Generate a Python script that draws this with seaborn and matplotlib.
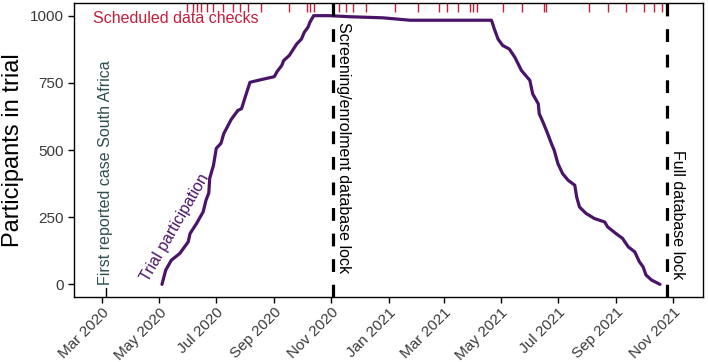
import pandas as pd
import seaborn as sns
import matplotlib.pyplot as plt
import matplotlib.dates as mdates

# participants enrolled in the trial over time
trial_dates = [
    "2020-05-04", "2020-05-08", "2020-05-14", "2020-05-23", "2020-06-01", "2020-06-03",
    "2020-06-10", "2020-06-17", "2020-06-20", "2020-06-23", "2020-06-24", "2020-06-28",
    "2020-07-01", "2020-07-06", "2020-07-09", "2020-07-17", "2020-07-24", "2020-07-28",
    "2020-08-02", "2020-08-06", "2020-08-18", "2020-09-01", "2020-09-04", "2020-09-09",
    "2020-09-11", "2020-09-17", "2020-09-25", "2020-09-30", "2020-10-03", "2020-10-07",
    "2020-10-09", "2020-10-13", "2020-10-30", "2020-11-21", "2020-12-26", "2021-01-24",
    "2021-04-21", "2021-04-24", "2021-04-28", "2021-05-03", "2021-05-10", "2021-05-16",
    "2021-05-23", "2021-06-01", "2021-06-04", "2021-06-10", "2021-06-11", "2021-06-15",
    "2021-06-20", "2021-06-24", "2021-06-27", "2021-07-01", "2021-07-06", "2021-07-12",
    "2021-07-19", "2021-07-21", "2021-07-24", "2021-07-31", "2021-08-09", "2021-08-20",
    "2021-08-23", "2021-09-01", "2021-09-08", "2021-09-14", "2021-09-21", "2021-09-26",
    "2021-09-30", "2021-10-03", "2021-10-09", "2021-10-18",
]
participants = [
    0, 53, 90, 115, 158, 189,
    227, 270, 313, 340, 395, 443,
    506, 525, 561, 614, 647, 654,
    709, 752, 762, 773, 792, 815,
    833, 852, 895, 913, 938, 957,
    975, 1000, 1000, 996, 992, 983,
    983, 951, 913, 889, 876, 845,
    796, 759, 709, 672, 635, 604,
    561, 524, 499, 449, 412, 387,
    369, 325, 288, 264, 245, 232,
    214, 189, 171, 140, 121, 84,
    65, 35, 16, 0,
]

check_dates = [
    "2020-05-31", "2020-06-06", "2020-06-10", "2020-06-15", "2020-06-21", "2020-06-27",
    "2020-07-08", "2020-07-19", "2020-07-26", "2020-08-04", "2020-08-18", "2020-09-17",
    "2020-10-06", "2020-10-09", "2020-10-13", "2020-11-09", "2020-11-17", "2020-11-24",
    "2020-12-08", "2021-01-08", "2021-02-01", "2021-02-24", "2021-03-05", "2021-03-16",
    "2021-03-29", "2021-04-01", "2021-04-06", "2021-05-03", "2021-05-24", "2021-06-16",
    "2021-06-18", "2021-08-03", "2021-08-23", "2021-09-12", "2021-10-01", "2021-10-12",
    "2021-10-20",
]

first_case = "2020-03-05"
screening_lock = "2020-11-03"
full_lock = "2021-10-25"

purple = "#4A1468"
crimson = "#C41E3A"

sns.set_style("ticks")
plt.rcParams['font.family'] = ['Liberation Sans', 'DejaVu Sans']

fig = plt.figure(figsize=(7.08, 3.62), dpi=100)
ax = fig.add_axes([0.1045, 0.1796, 0.8885, 0.812])

df = pd.DataFrame({"date": pd.to_datetime(trial_dates), "n": participants})
sns.lineplot(data=df, x="date", y="n", color=purple, linewidth=2.3, ax=ax)

# scheduled data checks as a rug along the top
ax.vlines(pd.to_datetime(check_dates), 0.97, 1.0, transform=ax.get_xaxis_transform(),
          color=crimson, linewidth=1)

ax.axvline(pd.Timestamp(screening_lock), color="black", linewidth=2.3, linestyle=(0, (4, 4)))
ax.axvline(pd.Timestamp(full_lock), color="black", linewidth=2.3, linestyle=(0, (4, 4)))
ax.axvline(pd.Timestamp(first_case), ymax=0.03, color="black", linewidth=1)

ax.text(pd.Timestamp("2020-02-20"), 990, "Scheduled data checks", color=crimson,
        fontsize=11.5, ha="left", va="center")
ax.text(pd.Timestamp(first_case), -2, "First reported case South Africa", rotation=90,
        rotation_mode="anchor", ha="left", va="center", color="#2F4F4F", fontsize=11.5)
ax.text(pd.Timestamp("2020-11-14"), 975, "Screening/enrolment database lock", rotation=-90,
        rotation_mode="anchor", ha="left", va="center", color="black", fontsize=11.5)
ax.text(pd.Timestamp("2021-11-06"), 500, "Full database lock", rotation=-90,
        rotation_mode="anchor", ha="left", va="center", color="black", fontsize=11.5)
ax.text(pd.Timestamp("2020-05-18"), 211, "Trial participation", rotation=60,
        rotation_mode="anchor", ha="center", va="center", color=purple, fontsize=11.5)

ax.set_xlim(pd.Timestamp("2020-01-31"), pd.Timestamp("2021-12-03"))
ax.set_ylim(-47, 1047)
ax.set_yticks([0, 250, 500, 750, 1000])
ax.xaxis.set_major_locator(mdates.MonthLocator(bymonth=[1, 3, 5, 7, 9, 11]))
ax.xaxis.set_major_formatter(mdates.DateFormatter("%b %Y"))
ax.tick_params(axis="both", colors="black", labelcolor="#3a3a3a", length=4, width=1)
ax.tick_params(axis="y", labelsize=11)
ax.tick_params(axis="x", labelsize=11, pad=2)
plt.setp(ax.get_xticklabels(), rotation=45, ha="right", rotation_mode="anchor")

ax.set_xlabel("")
ax.set_ylabel("Participants in trial", fontsize=17, color="black")
for s in ax.spines.values():
    s.set_visible(True)
    s.set_color("black")
    s.set_linewidth(1)

fig.savefig("out.png", dpi=100)
